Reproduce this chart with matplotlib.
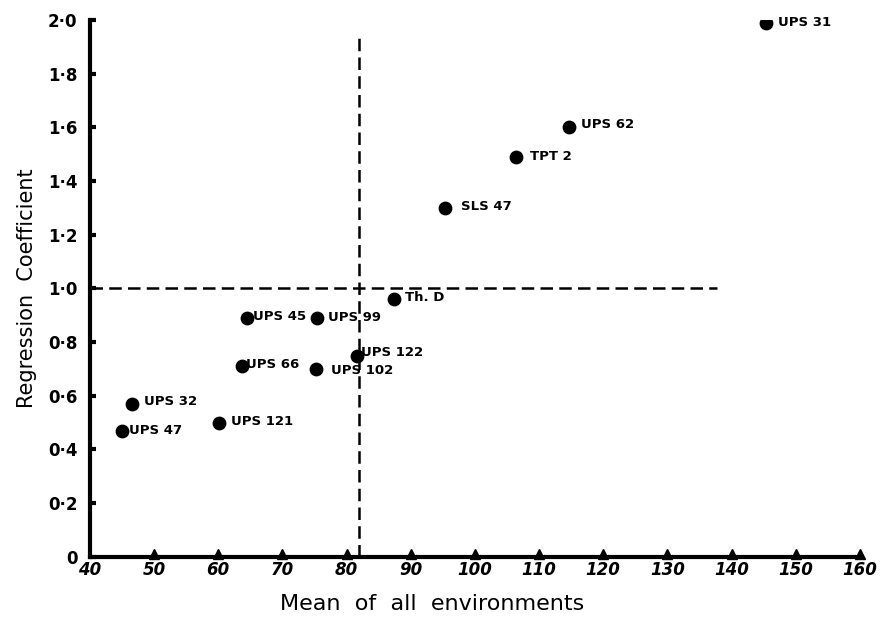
import matplotlib.pyplot as plt

# genotypes: mean over environments vs regression coefficient
NAMES = ["UPS 31", "UPS 62", "TPT 2", "SLS 47", "Th. D", "UPS 99", "UPS 45",
         "UPS 122", "UPS 102", "UPS 66", "UPS 32", "UPS 47", "UPS 121"]
MEANS = [145.3, 114.6, 106.4, 95.3, 87.4, 75.4, 64.5, 81.6, 75.2, 63.7, 46.5, 45.0, 60.1]
B_VALS = [1.99, 1.60, 1.49, 1.30, 0.96, 0.89, 0.89, 0.75, 0.70, 0.71, 0.57, 0.47, 0.50]

GRAND_MEAN = 82.0
X_TICKS = [40, 50, 60, 70, 80, 90, 100, 110, 120, 130, 140, 150, 160]
Y_TICKS = [0, 0.2, 0.4, 0.6, 0.8, 1.0, 1.2, 1.4, 1.6, 1.8, 2.0]
Y_LABELS = ["0", "0·2", "0·4", "0·6", "0·8", "1·0", "1·2", "1·4", "1·6", "1·8", "2·0"]

# label offsets in points (dx, dy), just layout
OFFS = [(9, 0), (9, 2), (10, 0), (12, 1), (8, 1), (8, 0), (4, 1),
        (3, 2), (11, -1), (3, 1), (9, 2), (5, 0), (9, 1)]

fig = plt.figure(figsize=(8.81, 6.27), dpi=100)
ax = fig.add_axes([0.102, 0.112, 0.874, 0.856])

ax.scatter(MEANS, B_VALS, s=80, color="black", zorder=3)
for n, x, y, (dx, dy) in zip(NAMES, MEANS, B_VALS, OFFS):
    ax.annotate(n, (x, y), xytext=(dx, dy), textcoords="offset points",
                fontsize=9.5, fontweight="bold", va="center", ha="left")

ax.plot([40, 137.7], [1.0, 1.0], color="black", lw=1.8, ls=(0, (5, 2.5)))
ax.plot([GRAND_MEAN, GRAND_MEAN], [0, 1.95], color="black", lw=1.8, ls=(0, (5, 2.5)))

# triangle tick marks sitting on the x axis
ax.plot(X_TICKS[1:], [0.012] * (len(X_TICKS) - 1), ls="none", marker="^",
        ms=7, color="black", clip_on=False, zorder=4)

ax.set_xlim(40, 160)
ax.set_ylim(0, 2.0)
ax.set_xticks(X_TICKS)
ax.set_xticklabels([str(t) for t in X_TICKS], fontsize=12, fontweight="bold",
                   fontstyle="italic")
ax.set_yticks(Y_TICKS)
ax.set_yticklabels(Y_LABELS, fontsize=12, fontweight="bold")
ax.tick_params(axis="x", length=0, pad=3)
ax.tick_params(axis="y", direction="in", length=4, width=3, pad=9)

for s in ["top", "right"]:
    ax.spines[s].set_visible(False)
for s in ["left", "bottom"]:
    ax.spines[s].set_linewidth(3)

ax.set_xlabel("Mean  of  all  environments", fontsize=16)
ax.xaxis.set_label_coords(0.445, -0.07)
ax.xaxis.label.set_va("top")
ax.set_ylabel("Regression  Coefficient", fontsize=15, labelpad=8)

fig.savefig("out.png", dpi=100)
